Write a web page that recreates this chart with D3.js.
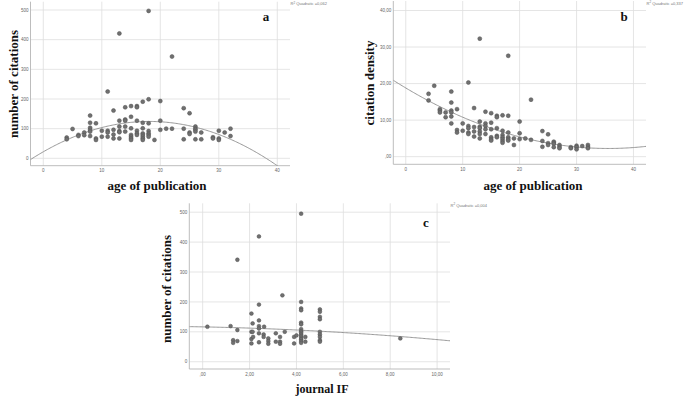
<!DOCTYPE html>
<html>
<head>
<meta charset="utf-8">
<script src="https://cdn.jsdelivr.net/npm/d3@7"></script>
<style>
  html, body { margin: 0; padding: 0; background: #fff; }
  svg { display: block; }
</style>
</head>
<body>
<svg id="chart" width="685" height="404"></svg>
<script>
// ---------- Data ----------
// Panel a: age of publication vs number of citations
const aAge = [4,4,5,6,6,7,7,8,8,8,8,8,8,9,9,9,10,10,11,11,11,11,12,12,12,12,13,13,13,13,13,13,14,14,14,14,14,15,15,15,15,15,15,15,16,16,16,16,16,16,17,17,17,17,17,17,17,17,18,18,18,18,18,18,18,19,20,20,20,21,22,22,24,24,24,25,25,25,26,26,26,26,26,27,27,29,29,30,30,30,31,32,32];
const aCitations = [70,64,99,79,75,87,78,144,120,103,96,90,75,118,67,62,93,73,225,93,87,73,161,96,80,67,421,127,107,92,88,67,172,131,127,107,90,176,140,101,79,73,67,62,176,172,127,93,84,79,191,120,101,84,79,73,67,62,497,199,118,92,84,79,73,62,193,127,96,100,343,100,169,100,64,152,87,82,107,100,96,90,64,87,64,71,67,93,67,62,87,100,75];
const aFitCoef = [22, 11.29, -0.3116];          // quadratic fit
const aR2 = "0,062";

// Panel b: age of publication vs citation density
const bAge = [4,4,5,6,6,6,7,7,8,8,8,8,8,8,9,9,9,10,10,11,11,11,11,11,12,12,12,12,13,13,13,13,13,13,13,14,14,14,14,14,15,15,15,15,15,15,16,16,16,16,16,17,17,17,17,17,17,17,18,18,18,18,18,18,19,19,20,20,20,21,22,22,24,24,24,25,25,25,26,26,26,26,27,27,27,29,29,30,30,30,31,32,32,32];
const bDensity = [17.2,15.4,19.4,13.0,12.6,12.1,12.1,10.8,17.8,14.8,12.6,12.1,11.0,9.1,13.0,7.3,6.6,9.1,7.1,20.3,8.4,7.8,6.6,6.2,13.3,8.1,6.9,5.5,32.3,9.6,8.2,7.8,6.9,6.2,5.0,12.3,9.1,8.4,7.5,6.2,11.9,9.3,7.5,5.3,4.8,4.4,11.2,10.8,7.8,5.7,5.3,11.3,7.1,5.9,5.3,4.8,4.3,3.8,27.6,11.2,6.6,5.3,4.8,4.4,5.0,3.2,9.6,6.4,4.8,5.0,15.6,4.6,7.0,4.3,2.7,6.1,3.7,3.2,4.1,3.8,3.5,2.6,3.2,2.7,2.3,2.6,2.3,3.0,2.6,2.0,2.9,3.2,2.7,2.3];
const bFitCoef = [18.8, -0.9308, 0.01308];
const bR2 = "0,337";

// Panel c: journal IF vs number of citations
const cIF = [0.2,1.19,1.48,1.48,1.48,1.3,1.3,2.08,2.08,2.08,2.08,2.13,2.13,2.15,2.4,2.4,2.4,2.4,2.4,2.4,2.4,2.6,2.6,2.62,2.8,2.8,2.8,3.12,3.12,3.3,3.3,3.3,3.4,3.5,3.9,3.9,4.0,4.2,4.2,4.2,4.2,4.2,4.2,4.2,4.2,4.2,4.2,4.2,4.2,4.2,4.2,4.2,4.38,4.38,5.0,5.0,5.0,5.0,5.0,5.0,5.0,5.0,5.0,8.43];
const cCitations = [117,119,341,106,69,72,63,161,100,76,61,128,100,83,419,191,138,119,111,95,65,91,83,117,78,69,60,95,67,83,67,60,222,100,83,61,88,495,200,178,172,131,125,109,102,97,91,86,80,75,69,63,83,67,175,167,150,142,100,91,83,72,67,78];
const cFitCoef = [116.5, -1.533, -0.273];
const cR2 = "0,004";

// Ticks
const ageTicks = [0, 10, 20, 30, 40];
const ageTickLabels = ["0", "10", "20", "30", "40"];
const citeTicks = [0, 100, 200, 300, 400, 500];
const citeTickLabels = ["0", "100", "200", "300", "400", "500"];
const densityTicks = [0, 10, 20, 30, 40];
const densityTickLabels = [",00", "10,00", "20,00", "30,00", "40,00"];
const ifTicks = [0, 2, 4, 6, 8, 10];
const ifTickLabels = [",00", "2,00", "4,00", "6,00", "8,00", "10,00"];

// ---------- Drawing ----------
const svg = d3.select("#chart");
const serif = "'Liberation Serif', 'Times New Roman', serif";
const sans = "'Liberation Sans', Arial, sans-serif";

function drawPanel(o) {
  const x = d3.scaleLinear().domain(o.xDomain).range([o.left, o.right]);
  const y = d3.scaleLinear().domain(o.yDomain).range([o.bottom, o.top]);
  const g = svg.append("g");

  const clipId = "clip-" + o.id;
  svg.append("defs").append("clipPath").attr("id", clipId)
    .append("rect").attr("x", o.left).attr("y", o.top)
    .attr("width", o.right - o.left).attr("height", o.bottom - o.top);

  // gridlines
  g.selectAll(".vg").data(o.xTicks).join("line")
    .attr("x1", d => x(d)).attr("x2", d => x(d))
    .attr("y1", o.top).attr("y2", o.bottom)
    .attr("stroke", "#dedede").attr("stroke-width", 0.8);
  g.selectAll(".hg").data(o.yTicks).join("line")
    .attr("x1", o.left).attr("x2", o.right)
    .attr("y1", d => y(d)).attr("y2", d => y(d))
    .attr("stroke", "#dedede").attr("stroke-width", 0.8);

  // axes lines
  g.append("line").attr("x1", o.left).attr("x2", o.left)
    .attr("y1", o.top).attr("y2", o.bottom)
    .attr("stroke", "#b5b5b5").attr("stroke-width", 0.9);
  g.append("line").attr("x1", o.left).attr("x2", o.right)
    .attr("y1", o.bottom).attr("y2", o.bottom)
    .attr("stroke", "#b5b5b5").attr("stroke-width", 0.9);

  // tick labels
  g.selectAll(".xt").data(o.xTicks).join("text")
    .attr("x", d => x(d)).attr("y", o.bottom + 6.5)
    .attr("text-anchor", "middle")
    .attr("font-family", sans).attr("font-size", 4.5).attr("fill", "#666")
    .text((d, i) => o.xTickLabels[i]);
  g.selectAll(".yt").data(o.yTicks).join("text")
    .attr("x", o.left - 2).attr("y", d => y(d) + 1.6)
    .attr("text-anchor", "end")
    .attr("font-family", sans).attr("font-size", 4.5).attr("fill", "#666")
    .text((d, i) => o.yTickLabels[i]);

  // fit curve
  const [c0, c1, c2] = o.fit;
  const xs = d3.range(o.xDomain[0], o.xDomain[1] + 0.001, (o.xDomain[1] - o.xDomain[0]) / 200);
  const line = d3.line().x(d => x(d)).y(d => y(c0 + c1 * d + c2 * d * d));
  g.append("path").datum(xs).attr("d", line)
    .attr("fill", "none").attr("stroke", "#8c8c8c").attr("stroke-width", 0.9)
    .attr("clip-path", `url(#${clipId})`);

  // points
  const pts = d3.zip(o.xs, o.ys);
  g.selectAll(".pt").data(pts).join("circle")
    .attr("cx", d => x(d[0])).attr("cy", d => y(d[1]))
    .attr("r", o.r)
    .attr("fill", "#707070").attr("stroke", "#505050").attr("stroke-width", 0.5);

  // R2 label
  const r2 = g.append("text").attr("x", o.right + 0.5).attr("y", o.top + 3.5)
    .attr("font-family", sans).attr("font-size", 4).attr("fill", "#777");
  r2.append("tspan").text("R");
  r2.append("tspan").attr("dy", -1.5).attr("font-size", 3).text("2");
  r2.append("tspan").attr("dy", 1.5).text(" Quadratic =" + o.r2);

  // panel letter
  g.append("text").attr("x", o.letterX).attr("y", o.letterY)
    .attr("text-anchor", "middle")
    .attr("font-family", serif).attr("font-weight", "bold").attr("font-size", 13)
    .attr("fill", "#111").text(o.letter);

  // axis titles
  g.append("text").attr("x", o.xTitleX).attr("y", o.xTitleY)
    .attr("text-anchor", "middle")
    .attr("font-family", serif).attr("font-weight", "bold").attr("font-size", o.xTitleSize)
    .attr("fill", "#111").text(o.xTitle);
  g.append("text")
    .attr("transform", `translate(${o.yTitleX},${o.yTitleY}) rotate(-90)`)
    .attr("text-anchor", "middle").attr("dominant-baseline", "central")
    .attr("font-family", serif).attr("font-weight", "bold").attr("font-size", 13)
    .attr("fill", "#111").text(o.yTitle);
}

drawPanel({
  id: "a", left: 30.5, right: 290, top: 1.7, bottom: 165.7,
  xDomain: [-2.19, 42.17], yDomain: [-24.9, 528],
  xTicks: ageTicks, xTickLabels: ageTickLabels,
  yTicks: citeTicks, yTickLabels: citeTickLabels,
  xs: aAge, ys: aCitations, fit: aFitCoef, r2: aR2, r: 2.0,
  letter: "a", letterX: 266, letterY: 21,
  xTitle: "age of publication", xTitleX: 157, xTitleY: 190, xTitleSize: 13,
  yTitle: "number of citations", yTitleX: 13, yTitleY: 84
});

drawPanel({
  id: "b", left: 393.3, right: 646, top: 1, bottom: 164.3,
  xDomain: [-2.19, 42.2], yDomain: [-2.09, 42.6],
  xTicks: ageTicks, xTickLabels: ageTickLabels,
  yTicks: densityTicks, yTickLabels: densityTickLabels,
  xs: bAge, ys: bDensity, fit: bFitCoef, r2: bR2, r: 2.0,
  letter: "b", letterX: 624, letterY: 21,
  xTitle: "age of publication", xTitleX: 533, xTitleY: 190, xTitleSize: 13,
  yTitle: "citation density", yTitleX: 369, yTitleY: 83
});

drawPanel({
  id: "c", left: 189.3, right: 450, top: 203.3, bottom: 369,
  xDomain: [-0.571, 10.55], yDomain: [-24.4, 529.8],
  xTicks: ifTicks, xTickLabels: ifTickLabels,
  yTicks: citeTicks, yTickLabels: citeTickLabels,
  xs: cIF, ys: cCitations, fit: cFitCoef, r2: cR2, r: 1.9,
  letter: "c", letterX: 426, letterY: 227,
  xTitle: "journal IF", xTitleX: 322, xTitleY: 393, xTitleSize: 12,
  yTitle: "number of citations", yTitleX: 166, yTitleY: 289
});
</script>
</body>
</html>
